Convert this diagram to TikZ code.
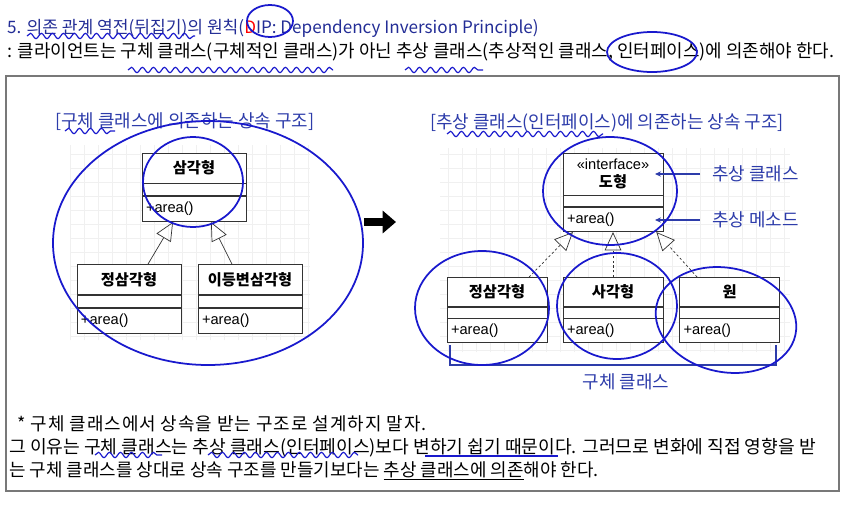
\documentclass[tikz,border=0pt]{standalone}
\usepackage{fontspec}
\setmainfont{Noto Sans CJK KR}
\newfontfamily\umlfont{Liberation Sans}
\usetikzlibrary{arrows.meta,positioning,decorations.pathmorphing}

\definecolor{titleblue}{RGB}{35,45,150}
\definecolor{headblue}{RGB}{45,60,170}
\definecolor{penblue}{RGB}{25,25,205}
\definecolor{boxgray}{RGB}{120,120,120}

\begin{document}
\begin{tikzpicture}[x=0.03cm, y=-0.03cm,
    txt/.style={anchor=west, inner sep=0pt, font=\fontsize{15.3}{18}\selectfont},
    head/.style={txt, text=headblue},
    clsname/.style={draw=black!80, line width=0.7pt, fill=white, inner sep=0pt,
      font=\fontsize{13}{15}\selectfont\bfseries},
    clsattr/.style={draw=black!80, line width=0.7pt, fill=white, inner sep=0pt},
    clsmeth/.style={draw=black!80, line width=0.7pt, fill=white, align=left,
      inner xsep=0.12cm, inner ysep=0pt, font=\umlfont\fontsize{12.5}{14}\selectfont},
    inh/.style={black!80, line width=0.6pt, -{Triangle[open, length=0.55cm, width=0.5cm]}},
    real/.style={inh, dash pattern=on 2pt off 2pt},
    note/.style={headblue, line width=0.9pt, -{Stealth[length=1.8mm, width=1.6mm]}},
    pen/.style={penblue, line width=1.5pt},
    wave/.style={penblue, line width=1pt, decorate,
      decoration={snake, segment length=0.33cm, amplitude=0.08cm}},
    bggrid/.style={step=0.42cm, black!6, line width=0.3pt}
  ]
  \path[fill=white, use as bounding box] (0,0) rectangle (847,504);

  % heading lines
  \node[txt, text=titleblue, font=\fontsize{14.6}{17}\selectfont] (title) at (7,28)
    {5. 의존 관계 역전(뒤집기)의 원칙(\textcolor{red}{D}IP: Dependency Inversion Principle)};
  \node[txt] (rule) at (7,52)
    {: 클라이언트는 구체 클래스(구체적인 클래스)가 아닌 추상 클래스(추상적인 클래스, 인터페이스)에 의존해야 한다.};

  \draw[boxgray, line width=1pt] (6,76) rectangle (839,491);

  \node[head] (lhead) at (55,122) {[구체 클래스에 의존하는 상속 구조]};
  \node[head] (rhead) at (430,123) {[추상 클래스(인터페이스)에 의존하는 상속 구조]};

  \draw[bggrid] (70,145) grid (310,340);
  \draw[bggrid] (440,148) grid (790,352);

  % left: concrete superclass
  \node[clsname, minimum width=3.12cm, minimum height=0.9cm] (tri) at (194,168) {삼각형};
  \node[clsattr, minimum width=3.12cm, minimum height=0.36cm, below=0pt of tri] (triA) {};
  \node[clsmeth, text width=2.88cm, minimum height=0.75cm, below=0pt of triA] (triM) {+area()};

  \node[clsname, minimum width=3.12cm, minimum height=0.9cm] (eq) at (129,279.5) {정삼각형};
  \node[clsattr, minimum width=3.12cm, minimum height=0.36cm, below=0pt of eq] (eqA) {};
  \node[clsmeth, text width=2.88cm, minimum height=0.75cm, below=0pt of eqA] (eqM) {+area()};

  \node[clsname, minimum width=3.12cm, minimum height=0.9cm] (iso) at (250,279.5) {이등변삼각형};
  \node[clsattr, minimum width=3.12cm, minimum height=0.36cm, below=0pt of iso] (isoA) {};
  \node[clsmeth, text width=2.88cm, minimum height=0.75cm, below=0pt of isoA] (isoM) {+area()};

  \draw[inh] ([xshift=0.57cm]eq.north) -- ([xshift=-0.63cm]triM.south);
  \draw[inh] ([xshift=-0.54cm]iso.north) -- ([xshift=0.51cm]triM.south);

  \coordinate (bigS) at (364,222);
  \coordinate (bigE) at (396,222);
  \draw[line width=6pt, -{Triangle[length=0.4cm, width=0.66cm]}] (bigS) -- (bigE);

  % right: interface
  \node[clsname, minimum width=3.0cm, minimum height=1.26cm, align=center] (shape) at (613,174)
    {{\umlfont\mdseries\fontsize{12.5}{14}\selectfont «interface»}\\도형};
  \node[clsattr, minimum width=3.0cm, minimum height=0.33cm, below=0pt of shape] (shapeA) {};
  \node[clsmeth, text width=2.76cm, minimum height=0.72cm, below=0pt of shapeA] (shapeM) {+area()};

  \node[clsname, minimum width=3.0cm, minimum height=0.87cm] (eq2) at (497,292) {정삼각형};
  \node[clsattr, minimum width=3.0cm, minimum height=0.32cm, below=0pt of eq2] (eq2A) {};
  \node[clsmeth, text width=2.76cm, minimum height=0.72cm, below=0pt of eq2A] (eq2M) {+area()};

  \node[clsname, minimum width=3.0cm, minimum height=0.87cm] (sq) at (613,292) {사각형};
  \node[clsattr, minimum width=3.0cm, minimum height=0.32cm, below=0pt of sq] (sqA) {};
  \node[clsmeth, text width=2.76cm, minimum height=0.72cm, below=0pt of sqA] (sqM) {+area()};

  \node[clsname, minimum width=3.0cm, minimum height=0.87cm] (circ) at (729.5,292) {원};
  \node[clsattr, minimum width=3.0cm, minimum height=0.32cm, below=0pt of circ] (circA) {};
  \node[clsmeth, text width=2.76cm, minimum height=0.72cm, below=0pt of circA] (circM) {+area()};

  \draw[real] ([xshift=0.96cm]eq2.north) -- ([xshift=-1.2cm]shapeM.south);
  \draw[real] (sq.north) -- (shapeM.south);
  \draw[real] ([xshift=-0.97cm]circ.north) -- ([xshift=1.3cm]shapeM.south);

  \node[head, inner xsep=0.36cm] (absLbl) at (700,174) {추상 클래스};
  \coordinate (absTip) at (655,174);
  \draw[note] (absLbl.west) -- (absTip);
  \node[head, inner xsep=0.36cm] (methLbl) at (700,220) {추상 메소드};
  \coordinate (methTip) at (655,220);
  \draw[note] (methLbl.west) -- (methTip);

  \draw[headblue, line width=0.9pt] (450,345) -- (450,365) -- (776,365) -- (776,345);
  \node[head, anchor=center] (concLbl) at (626,382) {구체 클래스};

  % notes below
  \node[txt] (note1) at (17,424)
    {\addfontfeature{LetterSpace=5.5}* 구체 클래스에서 상속을 받는 구조로 설계하지 말자.};
  \node[txt, font=\fontsize{15.5}{18}\selectfont] (note2) at (9,448)
    {그 이유는 구체 클래스는 추상 클래스(인터페이스)보다 변하기 쉽기 때문이다. 그러므로 변화에 직접 영향을 받};
  \node[txt] (note3) at (9,471)
    {는 구체 클래스를 상대로 상속 구조를 만들기보다는 \underline{추상 클래스에 의존}해야 한다.};

  % pen marks
  \draw[pen] (270,21) ellipse [x radius=23, y radius=16];
  \draw[pen] (652,52) ellipse [x radius=45, y radius=20];
  \draw[wave] (27,36) -- (195,36);
  \draw[wave] (128,70) -- (333,70);
  \draw[wave] (405,70) -- (483,70);
  \draw[wave] (65,131) -- (115,131);
  \draw[wave] (447,134) -- (603,134);
  \draw[pen] (208,243) ellipse [x radius=155, y radius=122];
  \draw[pen] (193,182) ellipse [x radius=50, y radius=45];
  \draw[pen] (610,191) ellipse [x radius=67, y radius=54];
  \draw[pen] (482,308) ellipse [x radius=67, y radius=57];
  \draw[pen] (617,306) ellipse [x radius=60, y radius=53];
  \draw[pen, rotate around={-12:(726,320)}] (726,320) ellipse [x radius=71, y radius=52];
  \draw[wave] (95,455) -- (162,455);
  \draw[wave] (208,455) -- (358,455);
  \draw[penblue, line width=1pt] (425,456) -- (558,456);
\end{tikzpicture}
\end{document}
